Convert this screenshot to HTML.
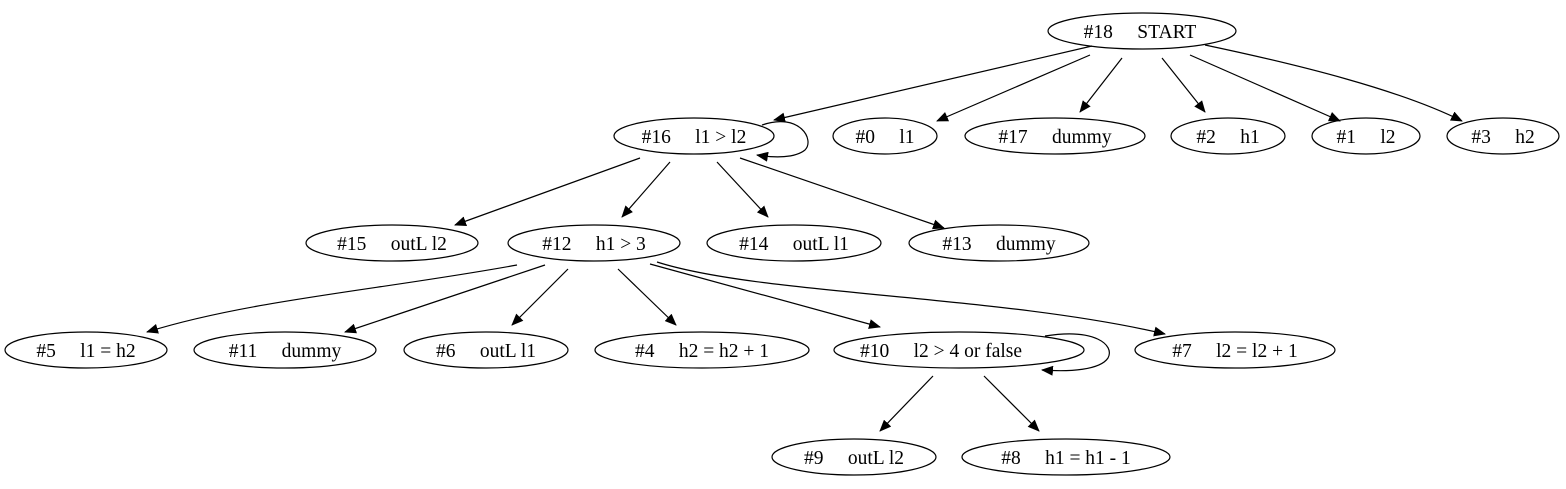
<!DOCTYPE html>
<html><head><meta charset="utf-8"><style>
html,body{margin:0;padding:0;background:#fff;}
svg{display:block;}
text{font-family:"Liberation Serif",serif;font-size:19.5px;fill:#000;white-space:pre;}
</style></head><body>
<svg width="1566" height="489" viewBox="0 0 1566 489" xmlns="http://www.w3.org/2000/svg">
<defs>
<marker id="a" markerWidth="12" markerHeight="10" refX="11" refY="5" orient="auto" markerUnits="userSpaceOnUse">
<path d="M0,0 L12,5 L0,10 Z" fill="#000"/>
</marker>
</defs>
<g fill="none" stroke="#000" stroke-width="1.2">
<ellipse cx="1142" cy="31" rx="94" ry="18"/>
<ellipse cx="694" cy="136" rx="80" ry="18"/>
<ellipse cx="885" cy="136" rx="52" ry="18"/>
<ellipse cx="1055" cy="136" rx="90" ry="18"/>
<ellipse cx="1228" cy="136" rx="57" ry="18"/>
<ellipse cx="1366" cy="136" rx="54" ry="18"/>
<ellipse cx="1503" cy="136" rx="56" ry="18"/>
<ellipse cx="392" cy="243" rx="86" ry="18"/>
<ellipse cx="594" cy="243" rx="86" ry="18"/>
<ellipse cx="794" cy="243" rx="87" ry="18"/>
<ellipse cx="999" cy="243" rx="90" ry="18"/>
<ellipse cx="86" cy="350" rx="81" ry="18"/>
<ellipse cx="285" cy="350" rx="91" ry="18"/>
<ellipse cx="486" cy="350" rx="82" ry="18"/>
<ellipse cx="702" cy="350" rx="107" ry="18"/>
<ellipse cx="959" cy="350" rx="125" ry="18"/>
<ellipse cx="1235" cy="350" rx="100" ry="18"/>
<ellipse cx="854" cy="457" rx="82" ry="18"/>
<ellipse cx="1066" cy="457" rx="104" ry="18"/>
</g>
<g fill="none" stroke="#000" stroke-width="1.2" marker-end="url(#a)">
<path d="M1092,46 L774,120"/>
<path d="M1090,55 L937,121"/>
<path d="M1122,58 L1080,112"/>
<path d="M1162,58 L1205,112"/>
<path d="M1190,55 L1340,121"/>
<path d="M1205,45 C1300,65 1400,90 1462,121"/>
<path d="M762,125 C800,112 815,140 805,150 C795,158 775,158 757,155"/>
<path d="M640,158 L455,225"/>
<path d="M670,162 L622,217"/>
<path d="M717,162 L768,217"/>
<path d="M740,158 L944,228"/>
<path d="M517,265 C380,290 250,300 147,332"/>
<path d="M545,265 L345,332"/>
<path d="M568,269 L512,325"/>
<path d="M618,269 L676,325"/>
<path d="M650,264 L880,327"/>
<path d="M657,262 C760,295 1000,295 1165,334"/>
<path d="M1045,336 C1095,328 1115,345 1108,358 C1100,370 1070,372 1042,370"/>
<path d="M933,376 L880,431"/>
<path d="M984,376 L1039,431"/>
</g>
<g text-anchor="middle">
<text x="1140" y="38">#18     START</text>
<text x="694" y="143">#16     l1 &gt; l2</text>
<text x="885" y="143">#0     l1</text>
<text x="1055" y="143">#17     dummy</text>
<text x="1228" y="143">#2     h1</text>
<text x="1366" y="143">#1     l2</text>
<text x="1503" y="143">#3     h2</text>
<text x="392" y="250">#15     outL l2</text>
<text x="594" y="250">#12     h1 &gt; 3</text>
<text x="794" y="250">#14     outL l1</text>
<text x="999" y="250">#13     dummy</text>
<text x="86" y="357">#5     l1 = h2</text>
<text x="285" y="357">#11     dummy</text>
<text x="486" y="357">#6     outL l1</text>
<text x="702" y="357">#4     h2 = h2 + 1</text>
<text x="941" y="357">#10     l2 &gt; 4 or false</text>
<text x="1235" y="357">#7     l2 = l2 + 1</text>
<text x="854" y="464">#9     outL l2</text>
<text x="1066" y="464">#8     h1 = h1 - 1</text>
</g>
</svg>
</body></html>
